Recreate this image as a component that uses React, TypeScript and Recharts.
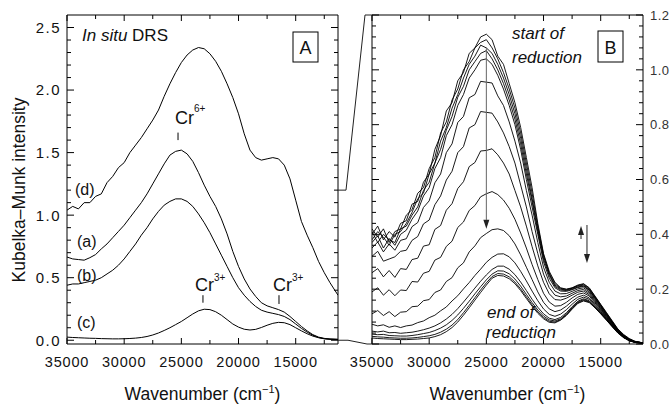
import React from "react";
import { LineChart, Line, XAxis, YAxis } from "recharts";

// ---------- data ----------
const WN = [35000, 34500, 34000, 33500, 33000, 32500, 32000, 31500, 31000, 30500, 30000, 29500, 29000, 28500, 28000, 27500, 27000, 26500, 26000, 25500, 25000, 24500, 24000, 23500, 23000, 22500, 22000, 21500, 21000, 20500, 20000, 19500, 19000, 18500, 18000, 17500, 17000, 16500, 16000, 15500, 15000, 14500, 14000, 13500, 13000, 12500, 12000, 11300];

// Panel A
const A_D = [1.04, 1.07, 1.05, 1.10, 1.10, 1.15, 1.17, 1.26, 1.31, 1.38, 1.42, 1.50, 1.56, 1.62, 1.69, 1.76, 1.84, 1.95, 2.05, 2.14, 2.22, 2.28, 2.32, 2.34, 2.33, 2.29, 2.23, 2.15, 2.05, 1.94, 1.81, 1.65, 1.52, 1.46, 1.44, 1.45, 1.46, 1.45, 1.40, 1.29, 1.12, 0.95, 0.84, 0.74, 0.63, 0.54, 0.46, 0.36];
const A_A = [0.665, 0.65, 0.645, 0.64, 0.66, 0.685, 0.73, 0.77, 0.82, 0.87, 0.92, 0.98, 1.04, 1.10, 1.17, 1.25, 1.33, 1.41, 1.48, 1.51, 1.52, 1.49, 1.43, 1.34, 1.24, 1.15, 1.07, 0.97, 0.85, 0.71, 0.59, 0.49, 0.41, 0.35, 0.30, 0.275, 0.26, 0.245, 0.225, 0.19, 0.15, 0.11, 0.075, 0.045, 0.025, 0.015, 0.01, 0.008];
const A_B = [0.44, 0.45, 0.45, 0.46, 0.47, 0.48, 0.50, 0.53, 0.56, 0.60, 0.65, 0.71, 0.77, 0.84, 0.90, 0.97, 1.03, 1.08, 1.11, 1.13, 1.13, 1.11, 1.07, 1.01, 0.94, 0.86, 0.77, 0.68, 0.59, 0.50, 0.42, 0.36, 0.31, 0.27, 0.24, 0.225, 0.215, 0.205, 0.19, 0.165, 0.13, 0.095, 0.065, 0.04, 0.022, 0.012, 0.008, 0.006];
const A_C = [0.025, 0.022, 0.02, 0.018, 0.016, 0.015, 0.013, 0.012, 0.011, 0.011, 0.012, 0.014, 0.017, 0.022, 0.03, 0.042, 0.058, 0.078, 0.10, 0.125, 0.15, 0.18, 0.21, 0.235, 0.248, 0.245, 0.228, 0.20, 0.165, 0.13, 0.105, 0.088, 0.082, 0.087, 0.102, 0.12, 0.135, 0.143, 0.14, 0.125, 0.10, 0.075, 0.052, 0.033, 0.02, 0.012, 0.008, 0.006];

// Panel B (reduction series)
const B01 = [0.40, 0.43, 0.38, 0.41, 0.39, 0.44, 0.45, 0.51, 0.52, 0.59, 0.62, 0.71, 0.76, 0.85, 0.88, 0.96, 0.99, 1.06, 1.08, 1.12, 1.13, 1.11, 1.05, 1.02, 0.95, 0.88, 0.79, 0.68, 0.57, 0.44, 0.33, 0.265, 0.225, 0.205, 0.20, 0.205, 0.215, 0.22, 0.205, 0.175, 0.145, 0.115, 0.085, 0.055, 0.035, 0.02, 0.01, 0.004];
const B02 = [0.42, 0.39, 0.42, 0.37, 0.41, 0.42, 0.47, 0.49, 0.55, 0.57, 0.64, 0.68, 0.77, 0.81, 0.89, 0.93, 1.00, 1.03, 1.08, 1.10, 1.11, 1.08, 1.04, 0.99, 0.93, 0.86, 0.77, 0.66, 0.55, 0.43, 0.325, 0.26, 0.22, 0.203, 0.199, 0.204, 0.213, 0.218, 0.203, 0.173, 0.143, 0.113, 0.083, 0.053, 0.033, 0.018, 0.009, 0.004];
const B03 = [0.38, 0.41, 0.39, 0.36, 0.40, 0.41, 0.44, 0.48, 0.53, 0.55, 0.62, 0.66, 0.74, 0.79, 0.86, 0.91, 0.97, 1.02, 1.05, 1.09, 1.08, 1.06, 1.02, 0.97, 0.91, 0.84, 0.75, 0.64, 0.53, 0.42, 0.32, 0.255, 0.215, 0.20, 0.197, 0.203, 0.211, 0.215, 0.20, 0.171, 0.141, 0.111, 0.081, 0.052, 0.032, 0.018, 0.009, 0.004];
const B04 = [0.41, 0.37, 0.40, 0.38, 0.37, 0.42, 0.43, 0.47, 0.50, 0.56, 0.59, 0.66, 0.71, 0.78, 0.83, 0.90, 0.94, 1.00, 1.03, 1.06, 1.07, 1.04, 1.00, 0.95, 0.89, 0.82, 0.73, 0.62, 0.52, 0.41, 0.31, 0.25, 0.21, 0.197, 0.195, 0.20, 0.208, 0.212, 0.197, 0.168, 0.139, 0.109, 0.08, 0.051, 0.031, 0.017, 0.008, 0.004];
const B05 = [0.37, 0.395, 0.35, 0.385, 0.36, 0.40, 0.415, 0.455, 0.485, 0.54, 0.57, 0.64, 0.68, 0.76, 0.80, 0.87, 0.91, 0.97, 1.00, 1.035, 1.04, 1.02, 0.98, 0.93, 0.87, 0.80, 0.71, 0.60, 0.50, 0.40, 0.30, 0.24, 0.205, 0.193, 0.192, 0.198, 0.206, 0.21, 0.195, 0.166, 0.137, 0.108, 0.079, 0.05, 0.03, 0.017, 0.008, 0.004];
const B06 = [0.35, 0.372, 0.336, 0.365, 0.342, 0.378, 0.384, 0.428, 0.443, 0.498, 0.522, 0.588, 0.62, 0.698, 0.73, 0.808, 0.83, 0.898, 0.91, 0.958, 0.955, 0.952, 0.905, 0.87, 0.81, 0.74, 0.66, 0.56, 0.47, 0.37, 0.28, 0.225, 0.193, 0.183, 0.184, 0.192, 0.201, 0.205, 0.19, 0.162, 0.134, 0.105, 0.077, 0.049, 0.03, 0.016, 0.008, 0.004];
const B07 = [0.32, 0.338, 0.302, 0.31, 0.318, 0.338, 0.342, 0.378, 0.392, 0.438, 0.452, 0.508, 0.54, 0.598, 0.63, 0.698, 0.72, 0.788, 0.80, 0.848, 0.845, 0.842, 0.81, 0.77, 0.72, 0.66, 0.58, 0.50, 0.41, 0.33, 0.255, 0.205, 0.178, 0.172, 0.175, 0.185, 0.195, 0.199, 0.185, 0.158, 0.131, 0.103, 0.075, 0.048, 0.029, 0.016, 0.008, 0.004];
const B08 = [0.26, 0.275, 0.245, 0.268, 0.243, 0.275, 0.272, 0.308, 0.313, 0.357, 0.362, 0.418, 0.432, 0.488, 0.512, 0.567, 0.592, 0.647, 0.662, 0.704, 0.706, 0.712, 0.69, 0.66, 0.62, 0.56, 0.50, 0.43, 0.355, 0.285, 0.225, 0.183, 0.162, 0.16, 0.167, 0.178, 0.189, 0.193, 0.18, 0.154, 0.128, 0.10, 0.073, 0.047, 0.028, 0.015, 0.007, 0.003];
const B09 = [0.19, 0.205, 0.178, 0.198, 0.176, 0.197, 0.195, 0.228, 0.226, 0.258, 0.265, 0.306, 0.316, 0.356, 0.375, 0.425, 0.445, 0.487, 0.505, 0.537, 0.548, 0.556, 0.545, 0.525, 0.495, 0.455, 0.405, 0.35, 0.29, 0.235, 0.185, 0.153, 0.138, 0.14, 0.152, 0.168, 0.181, 0.186, 0.175, 0.15, 0.125, 0.098, 0.071, 0.046, 0.027, 0.014, 0.007, 0.003];
const B10 = [0.11, 0.122, 0.104, 0.118, 0.10, 0.116, 0.118, 0.136, 0.138, 0.158, 0.162, 0.188, 0.197, 0.228, 0.242, 0.278, 0.296, 0.336, 0.358, 0.388, 0.403, 0.417, 0.42, 0.414, 0.395, 0.365, 0.325, 0.28, 0.235, 0.19, 0.152, 0.128, 0.118, 0.124, 0.138, 0.156, 0.171, 0.178, 0.168, 0.145, 0.121, 0.095, 0.069, 0.045, 0.026, 0.014, 0.007, 0.003];
const B11 = [0.072, 0.066, 0.07, 0.061, 0.066, 0.06, 0.066, 0.069, 0.078, 0.084, 0.096, 0.105, 0.121, 0.135, 0.157, 0.176, 0.201, 0.224, 0.25, 0.273, 0.298, 0.316, 0.328, 0.329, 0.318, 0.296, 0.265, 0.23, 0.193, 0.158, 0.128, 0.108, 0.101, 0.109, 0.125, 0.145, 0.163, 0.171, 0.163, 0.141, 0.118, 0.093, 0.067, 0.044, 0.025, 0.013, 0.006, 0.003];
const B12 = [0.047, 0.044, 0.047, 0.041, 0.042, 0.039, 0.041, 0.043, 0.047, 0.052, 0.058, 0.066, 0.077, 0.091, 0.108, 0.129, 0.153, 0.178, 0.204, 0.229, 0.252, 0.272, 0.284, 0.284, 0.273, 0.253, 0.226, 0.195, 0.163, 0.134, 0.11, 0.094, 0.089, 0.097, 0.114, 0.136, 0.156, 0.165, 0.158, 0.137, 0.115, 0.091, 0.066, 0.043, 0.025, 0.013, 0.006, 0.003];
const B13 = [0.036, 0.034, 0.035, 0.031, 0.03, 0.029, 0.029, 0.031, 0.034, 0.038, 0.042, 0.049, 0.058, 0.07, 0.086, 0.106, 0.13, 0.156, 0.183, 0.209, 0.234, 0.255, 0.267, 0.266, 0.256, 0.237, 0.211, 0.181, 0.151, 0.124, 0.102, 0.088, 0.084, 0.092, 0.109, 0.132, 0.153, 0.162, 0.155, 0.135, 0.113, 0.089, 0.065, 0.042, 0.024, 0.012, 0.006, 0.003];
const B14 = [0.028, 0.026, 0.025, 0.023, 0.022, 0.021, 0.021, 0.022, 0.024, 0.027, 0.03, 0.035, 0.043, 0.054, 0.069, 0.089, 0.114, 0.141, 0.169, 0.197, 0.223, 0.246, 0.257, 0.255, 0.245, 0.226, 0.201, 0.172, 0.143, 0.117, 0.096, 0.083, 0.08, 0.089, 0.106, 0.129, 0.15, 0.159, 0.153, 0.133, 0.111, 0.088, 0.064, 0.041, 0.024, 0.012, 0.006, 0.003];
const B15 = [0.022, 0.02, 0.019, 0.018, 0.017, 0.016, 0.016, 0.017, 0.018, 0.02, 0.022, 0.027, 0.034, 0.045, 0.06, 0.08, 0.105, 0.132, 0.16, 0.188, 0.215, 0.24, 0.25, 0.248, 0.238, 0.22, 0.195, 0.166, 0.138, 0.112, 0.092, 0.079, 0.077, 0.087, 0.104, 0.127, 0.148, 0.157, 0.151, 0.132, 0.11, 0.087, 0.063, 0.04, 0.023, 0.012, 0.006, 0.003];

const A_SERIES = [A_D, A_A, A_B, A_C];
const B_SERIES = [B01, B02, B03, B04, B05, B06, B07, B08, B09, B10, B11, B12, B13, B14, B15];

// ticks
const X_TICKS = [35000, 32500, 30000, 27500, 25000, 22500, 20000, 17500, 15000, 12500];
const X_LABELS = [35000, 30000, 25000, 20000, 15000];
const A_Y_LABELS = [0.0, 0.5, 1.0, 1.5, 2.0, 2.5];
const B_Y_LABELS = [0.0, 0.2, 0.4, 0.6, 0.8, 1.0, 1.2];
const A_Y_TICKS = Array.from({ length: 26 }, (_, i) => +(i * 0.1).toFixed(2));
const B_Y_TICKS = Array.from({ length: 31 }, (_, i) => +(i * 0.04).toFixed(2));

// ---------- layout ----------
const W = 671;
const H = 407;
const PLOT_TOP = 15;
const PLOT_BOTTOM = 344;
const A_LEFT = 67;
const A_RIGHT = 338;
const B_LEFT = 372;
const B_RIGHT = 643;
const X_MIN = 11300;
const X_MAX = 35000;
const A_Y: [number, number] = [-0.03, 2.6];
const B_Y: [number, number] = [0, 1.2];
const FONT = "'Liberation Sans', Arial, Helvetica, sans-serif";
const INK = "#111";
const AX = 1; // axis band thickness (recharts skips zero-size axes)

const xA = (wn: number) => A_LEFT + ((X_MAX - wn) / (X_MAX - X_MIN)) * (A_RIGHT - A_LEFT);
const yA = (v: number) => PLOT_TOP + ((A_Y[1] - v) / (A_Y[1] - A_Y[0])) * (PLOT_BOTTOM - PLOT_TOP);
const xB = (wn: number) => B_LEFT + ((X_MAX - wn) / (X_MAX - X_MIN)) * (B_RIGHT - B_LEFT);
const yB = (v: number) => PLOT_TOP + ((B_Y[1] - v) / (B_Y[1] - B_Y[0])) * (PLOT_BOTTOM - PLOT_TOP);

function makeXTick(side: "top" | "bottom") {
  return (p: any) => {
    const v = p.payload.value;
    const major = X_LABELS.includes(v);
    const len = major ? 6 : 4;
    const d = side === "bottom" ? -1 : 1;
    return (
      <g>
        <line x1={p.x} x2={p.x} y1={p.y} y2={p.y + d * len} stroke="#000" strokeWidth={1} />
        {side === "bottom" && major ? (
          <text x={p.x} y={p.y + 23} textAnchor="middle" fontSize={14.5} letterSpacing={0.8} fill={INK} fontFamily={FONT}>
            {v}
          </text>
        ) : null}
      </g>
    );
  };
}

function makeYTick(side: "left" | "right", labels: number[], show: boolean, fontSize: number, spacing: number) {
  return (p: any) => {
    const v = p.payload.value;
    const major = labels.some((l) => Math.abs(l - v) < 1e-6);
    const len = major ? 7 : 4;
    const d = side === "left" ? 1 : -1;
    return (
      <g>
        <line x1={p.x} x2={p.x + d * len} y1={p.y} y2={p.y} stroke="#000" strokeWidth={1} />
        {show && major ? (
          <text
            x={side === "left" ? p.x - 6 : p.x + 7}
            y={p.y}
            dy="0.36em"
            textAnchor={side === "left" ? "end" : "start"}
            fontSize={fontSize}
            letterSpacing={spacing}
            fill={side === "left" ? INK : "#333"}
            fontFamily={FONT}
          >
            {v.toFixed(1)}
          </text>
        ) : null}
      </g>
    );
  };
}

function Panel(props: {
  left: number;
  right: number;
  yDomain: [number, number];
  yTicks: number[];
  yLabels: number[];
  labelSide: "left" | "right";
  yFont: number;
  ySpacing: number;
  series: number[][];
  strokeWidth: number;
}) {
  const { left, right, yDomain, yTicks, yLabels, labelSide, yFont, ySpacing, series, strokeWidth } = props;
  const common = { tickSize: 0, tickMargin: 0, tickLine: false, axisLine: { stroke: "#000" }, interval: 0 as const, allowDataOverflow: true };
  return (
    <div style={{ position: "absolute", left: 0, top: 0 }}>
      <LineChart
        width={W}
        height={H}
        margin={{ top: PLOT_TOP - AX, bottom: H - PLOT_BOTTOM - AX, left: left - AX, right: W - right - AX }}
      >
        <XAxis xAxisId="b" orientation="bottom" type="number" dataKey="x" domain={[X_MIN, X_MAX]} reversed ticks={X_TICKS} height={AX} tick={makeXTick("bottom")} {...common} />
        <XAxis xAxisId="t" orientation="top" type="number" dataKey="x" domain={[X_MIN, X_MAX]} reversed ticks={X_TICKS} height={AX} tick={makeXTick("top")} {...common} />
        <YAxis yAxisId="l" orientation="left" type="number" domain={yDomain} ticks={yTicks} width={AX} tick={makeYTick("left", yLabels, labelSide === "left", yFont, ySpacing)} {...common} />
        <YAxis yAxisId="r" orientation="right" type="number" domain={yDomain} ticks={yTicks} width={AX} tick={makeYTick("right", yLabels, labelSide === "right", yFont, ySpacing)} {...common} />
        {series.map((s, i) => (
          <Line
            key={i}
            xAxisId="b"
            yAxisId="l"
            data={WN.map((x, j) => ({ x, y: s[j] }))}
            dataKey="y"
            type="linear"
            dot={false}
            activeDot={false}
            stroke="#000"
            strokeWidth={strokeWidth}
            isAnimationActive={false}
          />
        ))}
      </LineChart>
    </div>
  );
}

function Arrow({ x, y1, y2, color }: { x: number; y1: number; y2: number; color: string }) {
  const dir = y2 > y1 ? 1 : -1;
  const hl = 9;
  return (
    <g>
      <line x1={x} x2={x} y1={y1} y2={y2 - dir * hl} stroke={color} strokeWidth={1} />
      <polygon points={`${x - 3},${y2 - dir * hl} ${x + 3},${y2 - dir * hl} ${x},${y2}`} fill="#222" />
    </g>
  );
}

function Overlay() {
  const t = { fontFamily: FONT, fill: INK } as const;
  return (
    <svg width={W} height={H} style={{ position: "absolute", left: 0, top: 0, pointerEvents: "none" }}>
      {/* zoom connectors */}
      <polyline
        points={`${A_RIGHT},${yA(1.2)} ${A_RIGHT + 8},${yA(1.2)} ${B_LEFT - 7},${yB(1.2)} ${B_LEFT},${yB(1.2)}`}
        fill="none"
        stroke="#222"
        strokeWidth={1}
      />
      <polyline
        points={`${A_RIGHT},${yA(0)} ${A_RIGHT + 10},${yA(0)} ${B_LEFT - 5},${yB(0)} ${B_LEFT},${yB(0)}`}
        fill="none"
        stroke="#222"
        strokeWidth={1}
      />

      {/* axis titles */}
      <text x={19} y={190} transform="rotate(-90 19 190)" textAnchor="middle" dominantBaseline="central" fontSize={17.5} {...t}>
        Kubelka–Munk intensity
      </text>
      <text x={(A_LEFT + A_RIGHT) / 2} y={400} textAnchor="middle" fontSize={17.5} {...t}>
        Wavenumber (cm
        <tspan fontSize={11} dy={-7}>−1</tspan>
        <tspan dy={7}>)</tspan>
      </text>
      <text x={(B_LEFT + B_RIGHT) / 2} y={400} textAnchor="middle" fontSize={17.5} {...t}>
        Wavenumber (cm
        <tspan fontSize={11} dy={-7}>−1</tspan>
        <tspan dy={7}>)</tspan>
      </text>

      {/* Panel A annotations */}
      <text x={82} y={41} fontSize={17} {...t}>
        <tspan fontStyle="italic">In situ</tspan> DRS
      </text>
      <rect x={293} y={32} width={25} height={30} fill="#fff" stroke="#000" strokeWidth={1} />
      <text x={305.5} y={54} textAnchor="middle" fontSize={18} {...t}>A</text>
      <text x={75} y={195} fontSize={16} {...t}>(d)</text>
      <text x={77} y={247} fontSize={16} {...t}>(a)</text>
      <text x={77} y={281} fontSize={16} {...t}>(b)</text>
      <text x={77} y={328} fontSize={16} {...t}>(c)</text>

      <text x={175} y={124} fontSize={18} {...t}>
        Cr<tspan fontSize={10} dy={-12}>6+</tspan>
      </text>
      <line x1={xA(25290)} x2={xA(25290)} y1={yA(1.66)} y2={yA(1.6)} stroke="#000" strokeWidth={1} />
      <text x={195} y={291} fontSize={18} {...t}>
        Cr<tspan fontSize={10} dy={-10}>3+</tspan>
      </text>
      <line x1={xA(23110)} x2={xA(23110)} y1={yA(0.36)} y2={yA(0.3)} stroke="#000" strokeWidth={1} />
      <text x={273} y={291} fontSize={18} {...t}>
        Cr<tspan fontSize={10} dy={-10}>3+</tspan>
      </text>
      <line x1={xA(16460)} x2={xA(16460)} y1={yA(0.36)} y2={yA(0.29)} stroke="#000" strokeWidth={1} />

      {/* Panel B annotations */}
      <text x={512} y={39} fontSize={17} fontStyle="italic" {...t}>start of</text>
      <text x={512} y={63} fontSize={17} fontStyle="italic" {...t}>reduction</text>
      <rect x={598} y={31} width={25} height={31} fill="#fff" stroke="#000" strokeWidth={1} />
      <text x={610.5} y={54} textAnchor="middle" fontSize={18} {...t}>B</text>
      <text x={487} y={318} fontSize={17} fontStyle="italic" {...t}>end of</text>
      <text x={486} y={338} fontSize={17} fontStyle="italic" {...t}>reduction</text>

      <Arrow x={xB(25000)} y1={yB(1.08)} y2={yB(0.42)} color="#666" />
      <Arrow x={xB(16720)} y1={yB(0.383)} y2={yB(0.43)} color="#222" />
      <Arrow x={xB(16200)} y1={yB(0.434)} y2={yB(0.295)} color="#222" />
    </svg>
  );
}

export default function App() {
  return (
    <div style={{ position: "absolute", left: 0, top: 0, width: W, height: H, background: "#fff", overflow: "hidden" }}>
      <Panel left={A_LEFT} right={A_RIGHT} yDomain={A_Y} yTicks={A_Y_TICKS} yLabels={A_Y_LABELS} labelSide="left" yFont={15} ySpacing={1.5} series={A_SERIES} strokeWidth={1} />
      <Panel left={B_LEFT} right={B_RIGHT} yDomain={B_Y} yTicks={B_Y_TICKS} yLabels={B_Y_LABELS} labelSide="right" yFont={13} ySpacing={0.4} series={B_SERIES} strokeWidth={0.9} />
      <Overlay />
    </div>
  );
}
